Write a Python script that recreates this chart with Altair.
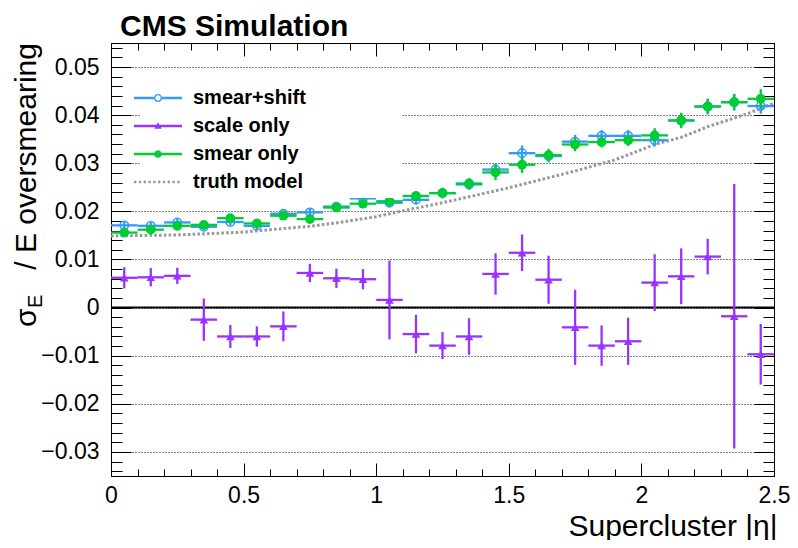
import altair as alt
import pandas as pd

# ---------------- data ----------------
bin_edges = [0.0, 0.1, 0.2, 0.3, 0.4, 0.5, 0.6, 0.7, 0.8, 0.9, 1.0, 1.1, 1.2,
             1.3, 1.4, 1.5, 1.6, 1.7, 1.8, 1.9, 2.0, 2.1, 2.2, 2.3, 2.4, 2.5]
eta_center = [0.05, 0.15, 0.25, 0.35, 0.45, 0.55, 0.65, 0.75, 0.85, 0.95, 1.05, 1.15,
              1.25, 1.35, 1.45, 1.55, 1.65, 1.75, 1.85, 1.95, 2.05, 2.15, 2.25, 2.35, 2.45]

smear_shift_val = [0.0171, 0.0170, 0.0177, 0.0168, 0.0178, 0.0170, 0.0195, 0.0198, 0.0210,
                   0.0227, 0.0218, 0.0224, 0.0238, 0.0256, 0.0287, 0.0321, 0.0315, 0.0345,
                   0.0357, 0.0357, 0.0348, 0.0389, 0.0418, 0.0427, 0.0419]
smear_shift_err = [0.0007, 0.0007, 0.0007, 0.0007, 0.0007, 0.0007, 0.0007, 0.0007, 0.0008,
                   0.0008, 0.0008, 0.0009, 0.0010, 0.0011, 0.0013, 0.0016, 0.0013, 0.0014,
                   0.0012, 0.0012, 0.0013, 0.0015, 0.0016, 0.0017, 0.0016]

scale_only_val = [0.0062, 0.0063, 0.0066, -0.0025, -0.0060, -0.0060, -0.0039, 0.0072, 0.0061,
                  0.0059, 0.0016, -0.0055, -0.0079, -0.0060, 0.0070, 0.0114, 0.0058, -0.0041,
                  -0.0079, -0.0070, 0.0052, 0.0065, 0.0106, -0.0018, -0.0097]
scale_only_err = [0.0022, 0.0019, 0.0017, 0.0044, 0.0024, 0.0021, 0.0031, 0.0019, 0.0020,
                  0.0021, 0.0082, 0.0040, 0.0028, 0.0038, 0.0043, 0.0038, 0.0050, 0.0078,
                  0.0042, 0.0049, 0.0059, 0.0058, 0.0037, 0.0275, 0.0063]

smear_only_val = [0.0156, 0.0162, 0.0170, 0.0172, 0.0186, 0.0175, 0.0191, 0.0184, 0.0208,
                  0.0216, 0.0221, 0.0232, 0.0238, 0.0258, 0.0281, 0.0297, 0.0317, 0.0339,
                  0.0344, 0.0348, 0.0358, 0.0389, 0.0418, 0.0427, 0.0434]
smear_only_err = [0.0007, 0.0007, 0.0007, 0.0007, 0.0008, 0.0007, 0.0007, 0.0007, 0.0008,
                  0.0008, 0.0008, 0.0009, 0.0011, 0.0011, 0.0016, 0.0017, 0.0013, 0.0014,
                  0.0011, 0.0012, 0.0015, 0.0016, 0.0016, 0.0017, 0.0020]

truth_eta = [0.0, 0.25, 0.5, 0.6, 0.75, 0.85, 1.0, 1.1, 1.25, 1.5, 1.75, 1.9, 2.05, 2.15,
             2.25, 2.4, 2.5]
truth_val = [0.0149, 0.0151, 0.0157, 0.0162, 0.0169, 0.0176, 0.0189, 0.0201, 0.0218, 0.0249,
             0.0284, 0.0307, 0.0339, 0.0354, 0.0376, 0.0403, 0.0425]

series_names = ["smear+shift", "scale only", "smear only", "truth model"]

x_major = [0, 0.5, 1, 1.5, 2, 2.5]
y_major = [-0.03, -0.02, -0.01, 0, 0.01, 0.02, 0.03, 0.04, 0.05]
y_minor = [round(-0.034 + 0.002 * i, 3) for i in range(45)]

# ---------------- style ----------------
W, H = 663, 433
FONT = "Liberation Sans"
BLUE, PURPLE, GREEN, GRAY = "#3399ff", "#9933ff", "#00cc33", "#999999"
LW = 2.3

xscale = alt.Scale(domain=[0, 2.5], nice=False, zero=False)
yscale = alt.Scale(domain=[-0.035, 0.055], nice=False, zero=False)


def frame(vals, errs):
    return pd.DataFrame({
        "eta": eta_center,
        "lo": bin_edges[:-1],
        "hi": bin_edges[1:],
        "val": vals,
        "ylo": [v - e for v, e in zip(vals, errs)],
        "yhi": [v + e for v, e in zip(vals, errs)],
    })


df_blue = frame(smear_shift_val, smear_shift_err)
df_purple = frame(scale_only_val, scale_only_err)
df_green = frame(smear_only_val, smear_only_err)
df_truth = pd.DataFrame({"eta": truth_eta, "val": truth_val})

# ---------------- axes ----------------
x_label_axis = alt.Axis(orient="bottom", values=x_major, format="~g", labelFont=FONT,
                        labelFontSize=23, labelColor="black", ticks=False, tickSize=0,
                        domain=False, grid=False, labelPadding=8, labelFlush=False,
                        title="Supercluster |η|", titleFont=FONT, titleFontSize=30,
                        titleFontWeight="normal", titleColor="black", titleX=W + 3,
                        titleY=59, titleAlign="right", titleBaseline="alphabetic")
y_label_axis = alt.Axis(orient="left", values=y_major, format=".2~f", labelFont=FONT,
                        labelFontSize=23, labelColor="black", ticks=False, tickSize=0,
                        domain=False, grid=True, gridColor="black", gridDash=[1, 2],
                        gridWidth=1, labelPadding=12, labelFlush=False, title=None)


def xt(orient, values, size):
    return alt.Axis(orient=orient, offset=-H, values=values, ticks=True, tickSize=size,
                    tickColor="black", tickWidth=1, labels=False, domain=False,
                    grid=False, title=None)


def yt(orient, values, size):
    return alt.Axis(orient=orient, offset=-W, values=values, ticks=True, tickSize=size,
                    tickColor="black", tickWidth=1, labels=False, domain=False,
                    grid=False, title=None)


def series_layers(df, color, point_mark, axes):
    ax_h, ax_v, ax_p = axes
    hbar = alt.Chart(df).mark_rule(color=color, strokeWidth=LW).encode(
        x=alt.X("lo:Q", scale=xscale, axis=ax_h[0]),
        x2="hi:Q",
        y=alt.Y("val:Q", scale=yscale, axis=ax_h[1]),
    )
    vbar = alt.Chart(df).mark_rule(color=color, strokeWidth=LW).encode(
        x=alt.X("eta:Q", scale=xscale, axis=ax_v[0]),
        y=alt.Y("ylo:Q", scale=yscale, axis=ax_v[1]),
        y2="yhi:Q",
    )
    pts = alt.Chart(df).mark_point(**point_mark).encode(
        x=alt.X("eta:Q", scale=xscale, axis=ax_p[0]),
        y=alt.Y("val:Q", scale=yscale, axis=ax_p[1]),
    )
    return [hbar, vbar, pts]


truth = alt.Chart(df_truth).mark_line(color=GRAY, strokeWidth=3, strokeDash=[2.6, 2.2]).encode(
    x=alt.X("eta:Q", scale=xscale, axis=x_label_axis),
    y=alt.Y("val:Q", scale=yscale, axis=y_label_axis),
)

zero = alt.Chart(pd.DataFrame({"z": [0]})).mark_rule(color="black", strokeWidth=2).encode(
    y=alt.Y("z:Q", scale=yscale, axis=None)
)

blue_layers = series_layers(
    df_blue, BLUE,
    dict(shape="circle", filled=False, color=BLUE, strokeWidth=1.5, size=70, opacity=1),
    [(xt("top", x_major, 13), yt("right", y_major, 20)),
     (xt("bottom", x_major, 13), yt("left", y_major, 20)),
     (xt("top", bin_edges, 7), yt("right", y_minor, 11))],
)
purple_layers = series_layers(
    df_purple, PURPLE,
    dict(shape="triangle-up", filled=True, color=PURPLE, size=75, opacity=1),
    [(xt("bottom", bin_edges, 7), yt("left", y_minor, 11)), (None, None), (None, None)],
)
green_layers = series_layers(
    df_green, GREEN,
    dict(shape="circle", filled=True, color=GREEN, size=95, opacity=1),
    [(None, None), (None, None), (None, None)],
)

# ---------------- legend (native, custom symbol paths) ----------------
def rect(x0, x1, h):
    return f"M{x0},{-h}L{x1},{-h}L{x1},{h}L{x0},{h}Z"


def circ(r, sweep):
    return (f"M{r},0A{r},{r} 0 1,{sweep} {-r},0A{r},{r} 0 1,{sweep} {r},0Z")


# zero-area anchor that widens the legend box (white background) to the right
EXT = "M19.8,0L19.8,0Z"
th = 0.1
path_blue = rect(-2, -0.34, th) + rect(0.34, 2, th) + circ(0.34, 1) + circ(0.22, 0) + EXT
path_purple = rect(-2, 2, th) + "M0,-0.32L0.3,0.22L-0.3,0.22Z" + EXT
path_green = rect(-2, 2, th) + circ(0.32, 1) + EXT
path_truth = "".join(rect(round(-2 + 0.4 * k, 2), round(-1.8 + 0.4 * k, 2), 0.1)
                     for k in range(10)) + EXT

leg = alt.Legend(title=None, orient="none", legendX=29, legendY=37, fillColor="white",
                 padding=6, symbolSize=576, symbolStrokeWidth=0, labelFont=FONT,
                 labelFontSize=20, labelFontWeight="bold", labelColor="black",
                 labelOffset=23, rowPadding=6, labelLimit=600)

legend_layer = alt.Chart(pd.DataFrame({"series": series_names})).transform_filter(
    "false").mark_point(filled=True, opacity=1).encode(
    color=alt.Color("series:N", scale=alt.Scale(domain=series_names,
                                                range=[BLUE, PURPLE, GREEN, GRAY]),
                    legend=leg),
    shape=alt.Shape("series:N", scale=alt.Scale(domain=series_names,
                                                range=[path_blue, path_purple,
                                                       path_green, path_truth]),
                    legend=leg),
)

# ---------------- texts: y title (with subscript) and CMS label ----------------
def txt(t, x, y, size, align, angle=0, weight="normal"):
    return alt.Chart(pd.DataFrame({"t": [t]})).mark_text(
        angle=angle, align=align, baseline="alphabetic", font=FONT, fontSize=size,
        fontWeight=weight, color="black").encode(text="t:N", x=alt.value(x), y=alt.value(y))


texts = [
    txt("σ", -75, 284, 30, "left", 270),
    txt("E", -69, 265, 20, "left", 270),
    txt("/ E oversmearing", -75, 0, 30, "right", 270),
    txt("CMS Simulation", 9, -7.5, 30, "left", 0, "bold"),
]

layers = [truth, zero] + blue_layers + purple_layers + green_layers + [legend_layer] + texts

chart = alt.layer(*layers).resolve_axis(x="independent", y="independent").properties(
    width=W, height=H,
    autosize=alt.AutoSizeParams(type="none"),
    padding={"left": 103, "top": 35, "right": 16, "bottom": 64},
    background="white",
).configure_view(stroke="black", strokeWidth=1)

chart.save("out.html", embed_options={"renderer": "svg", "actions": False})
